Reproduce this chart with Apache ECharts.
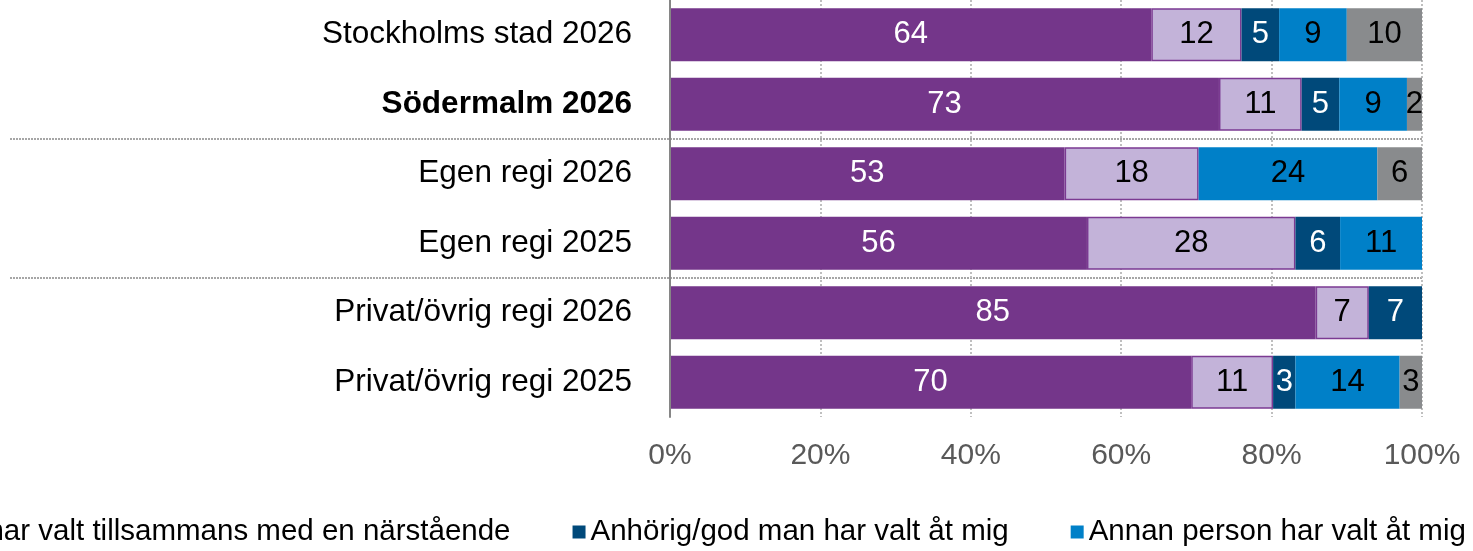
<!DOCTYPE html>
<html><head><meta charset="utf-8">
<script src="https://cdn.jsdelivr.net/npm/echarts@6/dist/echarts.min.js"></script>
<style>html,body{margin:0;padding:0;background:#fff}#c{width:1473px;height:551px}</style>
</head><body><div id="c"></div>
<script>
const categories = ['Stockholms stad 2026','Södermalm 2026','Egen regi 2026','Egen regi 2025','Privat/övrig regi 2026','Privat/övrig regi 2025'];
const seriesNames = ['Jag har valt själv','Jag har valt tillsammans med en närstående','Anhörig/god man har valt åt mig','Annan person har valt åt mig','Vet inte'];
const valtSjalv      = [64, 73, 53, 56, 85, 70];
const tillsammans    = [12, 11, 18, 28, 7, 11];
const anhorig        = [5, 5, null, 6, 7, 3];
const annanPerson    = [9, 9, 24, 11, null, 14];
const vetInte        = [10, 2, 6, null, null, 3];
const xTicks = [0, 20, 40, 60, 80, 100];

const raw = [valtSjalv, tillsammans, anhorig, annanPerson, vetInte];
const colors = ['#74368A','#C3B3D9','#00497A','#0080C8','#898B8D'];
const labelColors = ['#fff','#000','#fff','#000','#000'];
const totals = categories.map((c,i)=>raw.reduce((s,a)=>s+(a[i]||0),0));

const series = raw.map((arr,k)=>({
  name: seriesNames[k], type:'bar', stack:'tot', barWidth:53,
  xAxisIndex:0, yAxisIndex:0,
  itemStyle:{color:colors[k], borderColor: k===1?'#7B3A92':colors[k], borderWidth: k===1?1.5:0},
  label:{show:true, position:'inside', color:labelColors[k], fontSize:31, fontFamily:'Liberation Sans',
    formatter:p=>arr[p.dataIndex]==null?'':String(arr[p.dataIndex])},
  data: arr.map((v,i)=>v==null?null:{value:v/totals[i]*100})
}));

const chart = echarts.init(document.getElementById('c'));
chart.setOption({
  animation:false,
  textStyle:{fontFamily:'Liberation Sans'},
  grid:[{left:670,right:51,top:0,height:417},{left:10,right:51,top:0,height:417}],
  xAxis:[{type:'value',gridIndex:0,min:xTicks[0],max:xTicks[xTicks.length-1],interval:20,
    axisLabel:{formatter:v=>v+'%',fontSize:30,color:'#595959',margin:24},
    axisLine:{show:false},axisTick:{show:false},
    splitLine:{show:true,lineStyle:{color:'#BFBFBF',type:[2,2],width:2}}},
   {type:'value',gridIndex:1,show:false,min:0,max:100}],
  yAxis:[{type:'category',gridIndex:0,inverse:true,data:categories,
    axisLine:{show:true,lineStyle:{color:'#868686',width:2}},axisTick:{show:false},
    axisLabel:{fontSize:31.5,color:'#000',margin:38,
      formatter:v=>v==='Södermalm 2026'?'{b|'+v+'}':v,
      rich:{b:{fontWeight:'bold',fontSize:31.5,color:'#000'}}},
    splitLine:{show:false},z:5},
   {type:'value',gridIndex:1,inverse:true,min:0,max:6,interval:2,
    axisLine:{show:false},axisTick:{show:false},axisLabel:{show:false},
    splitLine:{show:true,showMinLine:false,showMaxLine:false,lineStyle:{color:'#A6A6A6',type:[2,1],width:2}}}],
  legend:{left:-392,top:512,width:2600,itemWidth:13,itemHeight:13,itemGap:62,icon:'rect',
    textStyle:{fontSize:29.5,color:'#000'},data:seriesNames},
  series: series
});
</script></body></html>
